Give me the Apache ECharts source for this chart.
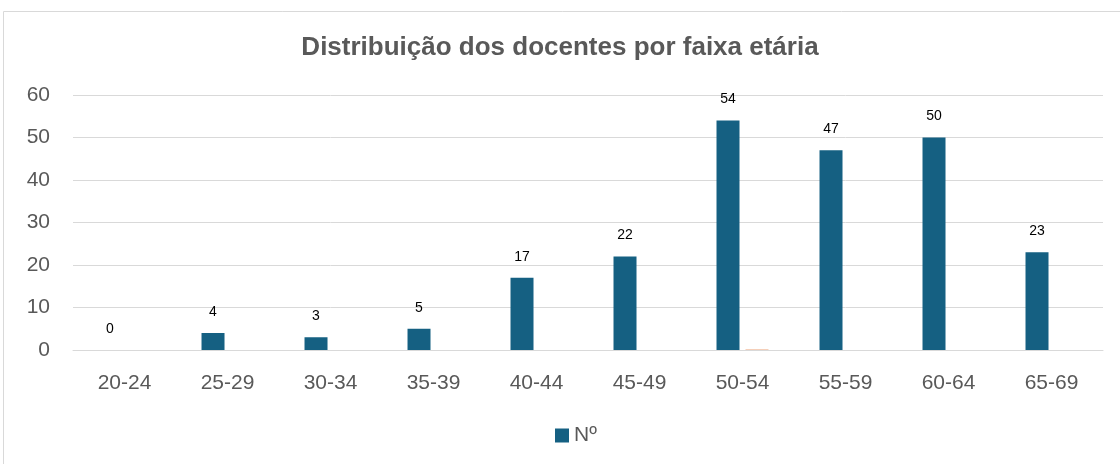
<!DOCTYPE html>
<html>
<head>
<meta charset="utf-8">
<script src="https://cdn.jsdelivr.net/npm/echarts@6/dist/echarts.min.js"></script>
<style>
    html, body { margin: 0; padding: 0; background: #fff; }
    #chart { width: 1120px; height: 464px; }
</style>
</head>
<body>
<div id="chart"></div>
<script>
const categories = ['20-24', '25-29', '30-34', '35-39', '40-44', '45-49', '50-54', '55-59', '60-64', '65-69']
const docentes = [0, 4, 3, 5, 17, 22, 54, 47, 50, 23]
// segunda série quase vazia (só um traço em 50-54)
const extra = [0, 0, 0, 0, 0, 0, 0.2, 0, 0, 0]
const yTicks = { min: 0, max: 60, interval: 10 }

const font = 'Liberation Sans'
const myChart = echarts.init(document.getElementById('chart'))
myChart.setOption({
    animation: false,
    title: {
        text: 'Distribuição dos docentes por faixa etária',
        left: 'center',
        top: 30,
        textStyle: {
            fontFamily: font,
            fontSize: 26,
            fontWeight: 'bold',
            color: '#595959'
        }
    },
    graphic: [{
        type: 'rect',
        shape: { x: 3.5, y: 11.5, width: 1130, height: 470 },
        style: { fill: 'none', stroke: '#d9d9d9', lineWidth: 1 }
    }],
    legend: {
        bottom: 13,
        left: 550,
        data: ['Nº'],
        itemWidth: 14,
        itemHeight: 14,
        itemGap: 6,
        icon: 'rect',
        textStyle: { fontFamily: font, fontSize: 21, color: '#595959' }
    },
    grid: { left: 73, right: 17, top: 95, bottom: 114 },
    xAxis: {
        type: 'category',
        data: categories,
        axisTick: { show: false },
        axisLine: { lineStyle: { color: '#d9d9d9' } },
        axisLabel: { fontFamily: font, fontSize: 21, color: '#595959', margin: 23 }
    },
    yAxis: {
        type: 'value',
        ...yTicks,
        axisLine: { show: false },
        axisTick: { show: false },
        splitLine: { lineStyle: { color: '#d9d9d9' } },
        axisLabel: { fontFamily: font, fontSize: 21, color: '#595959', margin: 23 }
    },
    series: [
        {
            name: 'Nº',
            type: 'bar',
            data: docentes,
            barWidth: 23,
            barGap: '26%',
            itemStyle: { color: '#156082' },
            label: {
                show: true,
                position: 'top',
                distance: 14,
                fontFamily: font,
                fontSize: 14,
                color: '#000'
            }
        },
        {
            name: '%',
            type: 'bar',
            data: extra,
            barWidth: 23,
            itemStyle: { color: '#f4c7ad' }
        }
    ]
})
</script>
</body>
</html>
